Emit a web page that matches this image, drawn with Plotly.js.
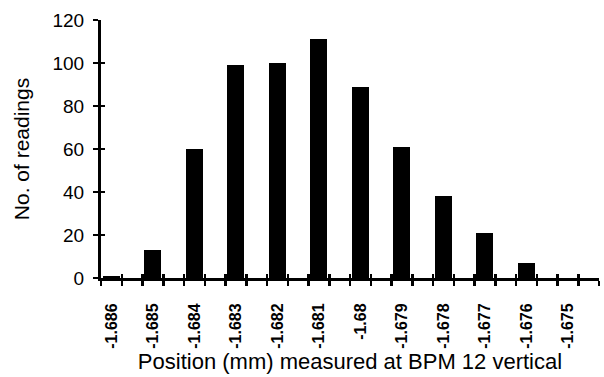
<!DOCTYPE html>
<html>
<head>
<meta charset="utf-8">
<script src="https://cdn.plot.ly/plotly-3.0.1.min.js"></script>
<style>
html,body{margin:0;padding:0;background:#fff;}
#chart{width:604px;height:377px;}
</style>
</head>
<body>
<div id="chart"></div>
<script>
// Data
const positions = [-1.686, -1.685, -1.684, -1.683, -1.682, -1.681, -1.680, -1.679, -1.678, -1.677, -1.676, -1.675];
const tickLabels = ["-1.686", "-1.685", "-1.684", "-1.683", "-1.682", "-1.681", "-1.68", "-1.679", "-1.678", "-1.677", "-1.676", "-1.675"];
const readings = [1, 13, 60, 99, 100, 111, 89, 61, 38, 21, 7, 0];
const yTicks = [0, 20, 40, 60, 80, 100, 120];

const FONT = '"Liberation Sans", Arial, Helvetica, sans-serif';
const halfStep = 0.00025;
const xRange = [positions[0] - halfStep, positions[positions.length - 1] + 3 * halfStep];
// category boundary tick positions (half-step grid of the original category axis)
const boundaryTicks = [];
positions.forEach(p => { boundaryTicks.push(p - halfStep, p + halfStep); });
boundaryTicks.push(positions[positions.length - 1] + 3 * halfStep);

const traces = [
  {
    type: 'bar',
    x: positions,
    y: readings,
    width: 0.00041,
    marker: {color: '#000', line: {width: 0}},
    hoverinfo: 'skip'
  },
  {
    type: 'scatter',
    mode: 'markers',
    x: [positions[0]], y: [0],
    marker: {size: 1, color: 'rgba(0,0,0,0)'},
    xaxis: 'x2', yaxis: 'y2',
    showlegend: false,
    hoverinfo: 'skip'
  }
];

const layout = {
  width: 604,
  height: 377,
  margin: {l: 101, r: 5, t: 20, b: 99},
  paper_bgcolor: '#fff',
  plot_bgcolor: '#fff',
  showlegend: false,
  font: {family: FONT, color: '#000'},
  bargap: 0,
  xaxis: {
    range: xRange,
    tickmode: 'array',
    tickvals: positions,
    ticktext: tickLabels,
    tickangle: -90,
    ticks: 'outside',
    ticklen: 16,
    tickcolor: 'rgba(0,0,0,0)',
    tickfont: {family: FONT, size: 16, color: '#000', weight: 'bold'},
    showline: true,
    linecolor: '#000',
    linewidth: 3,
    showgrid: false,
    zeroline: false,
    minor: {
      tickmode: 'array',
      tickvals: boundaryTicks,
      ticks: 'outside',
      ticklen: 5,
      tickwidth: 2.5,
      tickcolor: '#000',
      showgrid: false
    },
    title: {
      text: 'Position (mm) measured at BPM 12 vertical',
      font: {family: FONT, size: 22, color: '#000'},
      standoff: 2
    }
  },
  yaxis: {
    range: [0, 120],
    tickmode: 'array',
    tickvals: yTicks,
    ticks: 'outside',
    ticklen: 5,
    tickwidth: 2.5,
    tickcolor: '#000',
    ticklabelstandoff: 5,
    tickfont: {family: FONT, size: 19, color: '#000'},
    showline: true,
    linecolor: '#000',
    linewidth: 3,
    showgrid: false,
    zeroline: false,
    title: {
      text: 'No. of readings',
      font: {family: FONT, size: 21, color: '#000'},
      standoff: 18
    }
  },
  xaxis2: {
    overlaying: 'x',
    anchor: 'y2',
    side: 'bottom',
    range: xRange,
    tickmode: 'array',
    tickvals: boundaryTicks,
    ticks: 'inside',
    ticklen: 4,
    tickwidth: 2.5,
    tickcolor: '#000',
    showticklabels: false,
    showline: false,
    showgrid: false,
    zeroline: false
  },
  yaxis2: {
    overlaying: 'y',
    anchor: 'x2',
    side: 'left',
    range: [0, 120],
    tickmode: 'array',
    tickvals: yTicks,
    ticks: 'inside',
    ticklen: 4,
    tickwidth: 2.5,
    tickcolor: '#000',
    showticklabels: false,
    showline: false,
    showgrid: false,
    zeroline: false
  }
};

Plotly.newPlot('chart', traces, layout, {displayModeBar: false, staticPlot: true});
</script>
</body>
</html>
